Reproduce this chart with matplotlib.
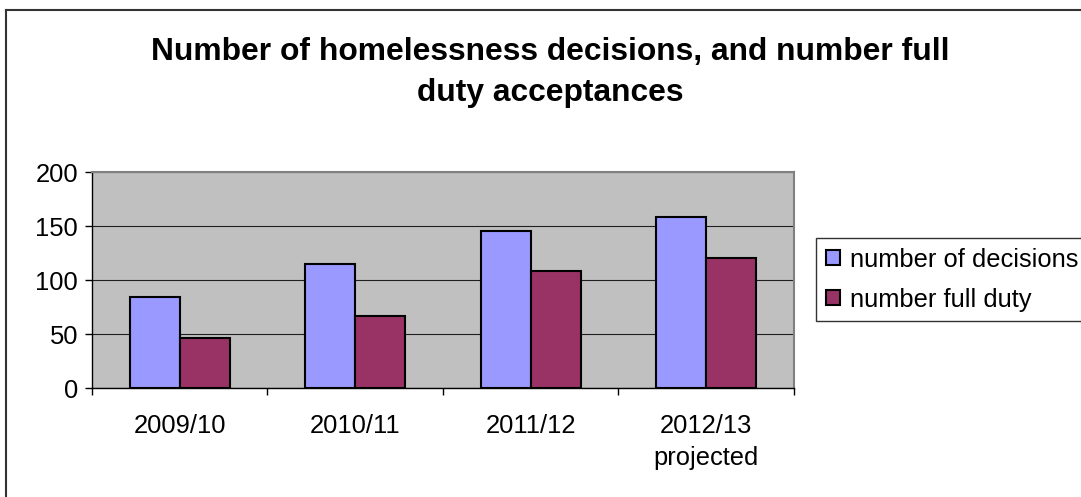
import matplotlib.pyplot as plt
import numpy as np
from matplotlib.lines import Line2D

plt.rcParams['font.family'] = ['Liberation Sans', 'DejaVu Sans']

years = ['2009/10', '2010/11', '2011/12', '2012/13\nprojected']
decisions = [84, 115, 145, 158]
full_duty = [46, 67, 108, 120]

DECISION_COLOR = '#9999FF'
DUTY_COLOR = '#993366'
PLOT_BG = '#C0C0C0'


def main():
    fig = plt.figure(figsize=(10.81, 4.97), dpi=100)
    ax = fig.add_axes([0.0851, 0.2193, 0.6494, 0.4346])

    x = np.arange(len(years))
    width = 1 / 3.5
    ax.bar(x - width / 2, decisions, width=width, color=DECISION_COLOR,
           edgecolor='black', linewidth=1.5, label='number of decisions', zorder=3)
    ax.bar(x + width / 2, full_duty, width=width, color=DUTY_COLOR,
           edgecolor='black', linewidth=1.5, label='number full duty', zorder=3)

    ax.set_facecolor(PLOT_BG)
    ax.set_xlim(-0.5, len(years) - 0.5)
    ax.set_ylim(0, 200)
    ax.set_yticks(np.arange(0, 201, 50))
    ax.grid(axis='y', color='#202020', linewidth=0.8, zorder=1)

    # labels sit under category centres, tick marks on the boundaries
    ax.set_xticks(x)
    ax.set_xticklabels(years)
    for label in ax.get_xticklabels():
        label.set_linespacing(1.4)
    ax.set_xticks(np.arange(-0.5, len(years)), minor=True)
    ax.tick_params(axis='x', which='major', length=0, pad=19, labelsize=18.4)
    ax.tick_params(axis='x', which='minor', length=5, width=1, direction='out')
    ax.tick_params(axis='y', length=5, width=1, direction='out', pad=5, labelsize=18.4)

    for side in ('top', 'right'):
        ax.spines[side].set_color('#808080')
        ax.spines[side].set_linewidth(1.5)
    for side in ('left', 'bottom'):
        ax.spines[side].set_color('black')
        ax.spines[side].set_linewidth(1)

    fig.text(0.509, 0.854, 'Number of homelessness decisions, and number full\nduty acceptances',
             ha='center', va='center', fontsize=22.9, fontweight='bold', linespacing=1.48)

    leg = fig.legend(loc='upper left', bbox_to_anchor=(816 / 1081, 1 - 238 / 497),
                     fontsize=18.4, frameon=True, fancybox=False, edgecolor='black',
                     handlelength=0.55, handleheight=0.55, handletextpad=0.4,
                     borderpad=0.38, labelspacing=0.62, borderaxespad=0)
    leg.get_frame().set_linewidth(1)

    # outer chart frame (left and top edges visible)
    fig.add_artist(Line2D([6 / 1081, 6 / 1081], [0, 1 - 10 / 497], color='#333333', linewidth=1.5))
    fig.add_artist(Line2D([6 / 1081, 1], [1 - 10 / 497, 1 - 10 / 497], color='#333333', linewidth=1.5))

    fig.savefig('out.png', dpi=100)


if __name__ == '__main__':
    main()
